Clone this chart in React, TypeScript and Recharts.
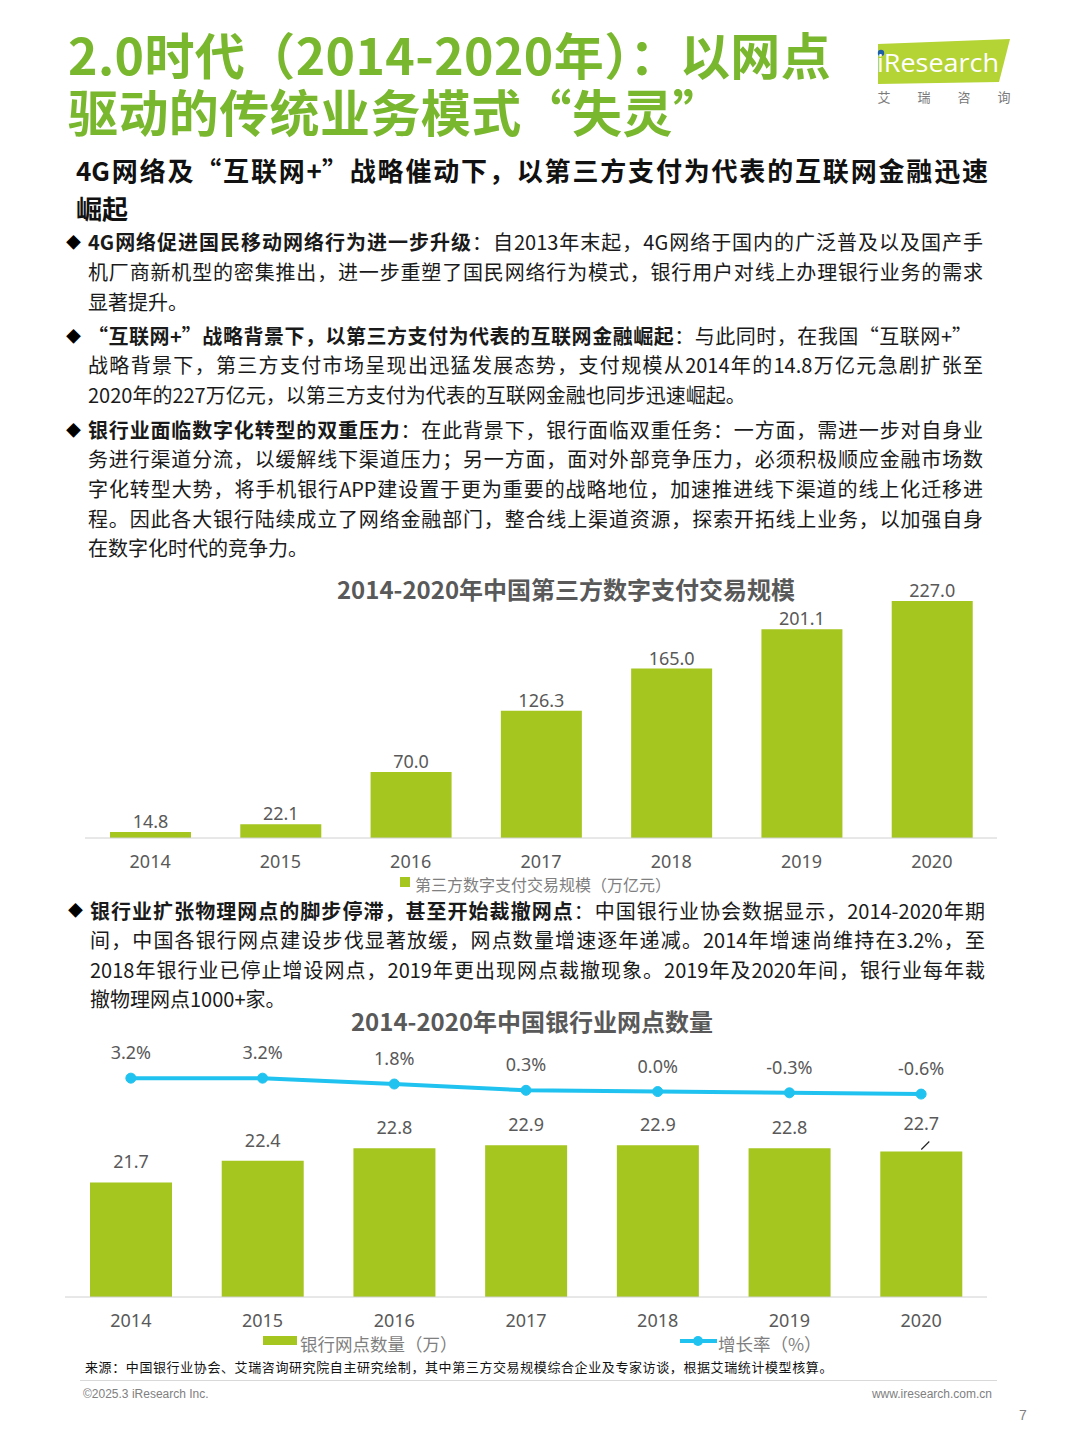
import React from "react";
import { BarChart, Bar, XAxis, YAxis, LabelList, ComposedChart, Line } from "recharts";

const payYears = ["2014", "2015", "2016", "2017", "2018", "2019", "2020"];
const payScale = [14.8, 22.1, 70.0, 126.3, 165.0, 201.1, 227.0];

const branchYears = ["2014", "2015", "2016", "2017", "2018", "2019", "2020"];
const branchCount = [21.7, 22.4, 22.8, 22.9, 22.9, 22.8, 22.7];
const branchGrowth = [3.2, 3.2, 1.8, 0.3, 0.0, -0.3, -0.6];

const GREEN = "#a4c61f";
const TITLE_GREEN = "#79b72e";
const BLUE = "#20c3ef";
const GREY = "#595959";
const CJK = '"Noto Sans CJK SC", "Noto Sans", sans-serif';
const NUM = '"Noto Sans", "Noto Sans CJK SC", sans-serif';

const payData = payYears.map((year, i) => ({ year, value: payScale[i] }));
const branchData = branchYears.map((year, i) => ({
	year,
	count: branchCount[i],
	growth: branchGrowth[i],
}));

const YearTick = (props: any) => {
	const { x, y, payload, shift = 23 } = props;
	return (
		<text x={x} y={y + shift} textAnchor='middle' dominantBaseline='central' fill={GREY} fontSize={18} fontFamily={NUM}>
			{payload.value}
		</text>
	);
};

const PayLabel = (props: any) => {
	const { x, y, width, value } = props;
	return (
		<text x={x + width / 2} y={y - 11} textAnchor='middle' dominantBaseline='central' fill={GREY} fontSize={18} fontFamily={NUM}>
			{Number(value).toFixed(1)}
		</text>
	);
};

const CountLabel = (props: any) => {
	const { x, y, width, value, index } = props;
	const cx = x + width / 2;
	const last = index === branchCount.length - 1;
	return (
		<g>
			<text x={cx} y={y - (last ? 28 : 21)} textAnchor='middle' dominantBaseline='central' fill={GREY} fontSize={18} fontFamily={NUM}>
				{Number(value).toFixed(1)}
			</text>
			{last && <line x1={cx} y1={y - 2} x2={cx + 8} y2={y - 10} stroke='#222' strokeWidth={1.2} />}
		</g>
	);
};

const GrowthLabel = (props: any) => {
	const { x, y, value } = props;
	return (
		<text x={x} y={y - 26} textAnchor='middle' dominantBaseline='central' fill={GREY} fontSize={18} fontFamily={NUM}>
			{Number(value).toFixed(1)}%
		</text>
	);
};

const TextLine = ({
	top,
	left,
	width,
	size = 20,
	lh = 30,
	justify = true,
	children,
	style,
}: {
	top: number;
	left: number;
	width: number;
	size?: number;
	lh?: number;
	justify?: boolean;
	children: React.ReactNode;
	style?: React.CSSProperties;
}) => (
	<div
		style={{
			position: "absolute",
			top: top - lh / 2,
			left,
			width,
			height: lh,
			fontSize: size,
			lineHeight: `${lh}px`,
			textAlign: "justify",
			textAlignLast: justify ? "justify" : "left",
			color: "#1a1a1a",
			...style,
		}}>
		{children}
	</div>
);

const Diamond = ({ top, left }: { top: number; left: number }) => (
	<div style={{ position: "absolute", top: top - 12, left, fontSize: 15, lineHeight: "24px", color: "#000" }}>◆</div>
);

const Logo = () => (
	<svg style={{ position: "absolute", left: 868, top: 34 }} width={150} height={76}>
		<polygon points='10,10 142,5 131,48 10,50' fill='#b4d335' />
		<circle cx={13} cy={19} r={3.2} fill='#1d5fa8' />
		<text x={9} y={38} fill='#fff' fontSize={25} fontFamily='"Open Sans", sans-serif' textLength={122} lengthAdjust='spacingAndGlyphs'>
			iResearch
		</text>
		{["艾", "瑞", "咨", "询"].map((c, i) => (
			<text key={c} x={16 + i * 40} y={68} textAnchor='middle' fill='#7a7a7a' fontSize={13} fontFamily={CJK}>
				{c}
			</text>
		))}
	</svg>
);

export default function App() {
	return (
		<div
			style={{
				position: "absolute",
				left: 0,
				top: 0,
				width: 1080,
				height: 1440,
				background: "#fff",
				fontFamily: CJK,
				overflow: "hidden",
			}}>
			{/* heading */}
			<div
				style={{
					position: "absolute",
					top: 53 - 28.5,
					left: 68,
					width: 800,
					fontSize: 50,
					lineHeight: "57px",
					color: TITLE_GREEN,
					fontWeight: 700,
					letterSpacing: 0.4,
				}}>
				2.0时代（2014-2020年）：以网点
				<br />
				驱动的传统业务模式“失灵”
			</div>
			<Logo />

			<TextLine top={170} left={76} width={912} size={26} lh={38} style={{ fontWeight: 700, color: "#111" }}>
				4G网络及“互联网+”战略催动下，以第三方支付为代表的互联网金融迅速
			</TextLine>
			<TextLine top={208} left={76} width={912} size={26} lh={38} justify={false} style={{ fontWeight: 700, color: "#111" }}>
				崛起
			</TextLine>

			{/* bullet 1 */}
			<Diamond top={242} left={66} />
			<TextLine top={242} left={88} width={895}>
				<b>4G网络促进国民移动网络行为进一步升级</b>：自2013年末起，4G网络于国内的广泛普及以及国产手
			</TextLine>
			<TextLine top={272} left={88} width={895}>
				机厂商新机型的密集推出，进一步重塑了国民网络行为模式，银行用户对线上办理银行业务的需求
			</TextLine>
			<TextLine top={302} left={88} width={895} justify={false}>
				显著提升。
			</TextLine>

			{/* bullet 2 */}
			<Diamond top={336} left={66} />
			<TextLine top={336} left={88} width={884}>
				<b>“互联网+”战略背景下，以第三方支付为代表的互联网金融崛起</b>：与此同时，在我国“互联网+”
			</TextLine>
			<TextLine top={365} left={88} width={895}>
				战略背景下，第三方支付市场呈现出迅猛发展态势，支付规模从2014年的14.8万亿元急剧扩张至
			</TextLine>
			<TextLine top={395} left={88} width={895} justify={false}>
				2020年的227万亿元，以第三方支付为代表的互联网金融也同步迅速崛起。
			</TextLine>

			{/* bullet 3 */}
			<Diamond top={430} left={66} />
			<TextLine top={430} left={88} width={895}>
				<b>银行业面临数字化转型的双重压力</b>：在此背景下，银行面临双重任务：一方面，需进一步对自身业
			</TextLine>
			<TextLine top={459} left={88} width={895}>
				务进行渠道分流，以缓解线下渠道压力；另一方面，面对外部竞争压力，必须积极顺应金融市场数
			</TextLine>
			<TextLine top={489} left={88} width={895}>
				字化转型大势，将手机银行APP建设置于更为重要的战略地位，加速推进线下渠道的线上化迁移进
			</TextLine>
			<TextLine top={519} left={88} width={895}>
				程。因此各大银行陆续成立了网络金融部门，整合线上渠道资源，探索开拓线上业务，以加强自身
			</TextLine>
			<TextLine top={548} left={88} width={895} justify={false}>
				在数字化时代的竞争力。
			</TextLine>

			{/* chart 1 */}
			<div style={{ position: "absolute", top: 574, left: 0, width: 1080, textAlign: "center", fontSize: 24, fontWeight: 700, color: GREY, lineHeight: "30px", paddingLeft: 52, boxSizing: "border-box" }}>
				2014-2020年中国第三方数字支付交易规模
			</div>
			<div style={{ position: "absolute", top: 570, left: 0 }}>
				<BarChart width={1080} height={308} data={payData} margin={{ top: 7, right: 83, left: 85, bottom: 0 }}>
					<XAxis dataKey='year' height={40} tickSize={0} tickMargin={0} tickLine={false} axisLine={{ stroke: "#d0d0d0" }} tick={<YearTick shift={22.5} />} interval={0} />
					<YAxis hide domain={[9.4, 249.1]} allowDataOverflow />
					<Bar dataKey='value' fill={GREEN} barSize={81} isAnimationActive={false}>
						<LabelList dataKey='value' content={<PayLabel />} />
					</Bar>
				</BarChart>
			</div>
			<div style={{ position: "absolute", top: 873, left: 400, display: "flex", alignItems: "center", fontSize: 16, color: "#7f7f7f", lineHeight: "23px", height: 23 }}>
				<span style={{ width: 10, height: 10, background: GREEN, marginRight: 5, marginTop: -6 }} />
				第三方数字支付交易规模（万亿元）
			</div>

			{/* bullet 4 */}
			<Diamond top={910} left={68} />
			<TextLine top={911} left={90} width={895}>
				<b>银行业扩张物理网点的脚步停滞，甚至开始裁撤网点</b>：中国银行业协会数据显示，2014-2020年期
			</TextLine>
			<TextLine top={940} left={90} width={895}>
				间，中国各银行网点建设步伐显著放缓，网点数量增速逐年递减。2014年增速尚维持在3.2%，至
			</TextLine>
			<TextLine top={970} left={90} width={895}>
				2018年银行业已停止增设网点，2019年更出现网点裁撤现象。2019年及2020年间，银行业每年裁
			</TextLine>
			<TextLine top={999} left={90} width={895} justify={false}>
				撤物理网点1000+家。
			</TextLine>

			{/* chart 2 */}
			<div style={{ position: "absolute", top: 1006, left: 0, width: 1080, textAlign: "center", fontSize: 24, fontWeight: 700, color: GREY, lineHeight: "30px" }}>
				<span style={{ position: "relative", left: -8 }}>2014-2020年中国银行业网点数量</span>
			</div>
			<div style={{ position: "absolute", top: 1030, left: 0 }}>
				<ComposedChart width={1080} height={307} data={branchData} margin={{ top: 10, right: 93, left: 65, bottom: 0 }}>
					<XAxis dataKey='year' height={40} tickSize={0} tickMargin={0} tickLine={false} axisLine={{ stroke: "#d0d0d0" }} tick={<YearTick />} interval={0} />
					<YAxis yAxisId='left' hide domain={[18, 26.3]} allowDataOverflow />
					<YAxis yAxisId='right' orientation='right' hide domain={[-49, 12.3]} allowDataOverflow />
					<Bar yAxisId='left' dataKey='count' fill={GREEN} barSize={82} isAnimationActive={false}>
						<LabelList dataKey='count' content={<CountLabel />} />
					</Bar>
					<Line
						yAxisId='right'
						dataKey='growth'
						stroke={BLUE}
						strokeWidth={4}
						dot={{ r: 5, fill: BLUE, stroke: BLUE, strokeWidth: 1 }}
						isAnimationActive={false}>
						<LabelList dataKey='growth' content={<GrowthLabel />} />
					</Line>
				</ComposedChart>
			</div>
			<div style={{ position: "absolute", top: 1332, left: 263, display: "flex", alignItems: "center", fontSize: 17.5, color: "#7f7f7f", lineHeight: "24px", height: 24 }}>
				<span style={{ width: 34, height: 9, background: GREEN, marginRight: 3, marginTop: -7 }} />
				银行网点数量（万）
			</div>
			<div style={{ position: "absolute", top: 1332, left: 680, display: "flex", alignItems: "center", fontSize: 17.5, color: "#7f7f7f", lineHeight: "24px", height: 24 }}>
				<svg width={37} height={12} style={{ marginRight: 1, marginTop: -7 }}>
					<line x1={0} y1={6} x2={37} y2={6} stroke={BLUE} strokeWidth={4} />
					<circle cx={18} cy={6} r={5} fill={BLUE} />
				</svg>
				增长率（%）
			</div>

			{/* source & footer */}
			<div style={{ position: "absolute", top: 1358, left: 85, fontSize: 13, lineHeight: "18px", color: "#111", letterSpacing: 0.6 }}>
				来源：中国银行业协会、艾瑞咨询研究院自主研究绘制，其中第三方交易规模综合企业及专家访谈，根据艾瑞统计模型核算。
			</div>
			<div style={{ position: "absolute", top: 1380, left: 80, width: 917, height: 1, background: "#d9d9d9" }} />
			<div style={{ position: "absolute", top: 1386, left: 83, fontSize: 12, lineHeight: "16px", color: "#808080", fontFamily: '"Liberation Sans", Arial, sans-serif' }}>
				©2025.3 iResearch Inc.
			</div>
			<div style={{ position: "absolute", top: 1386, right: 88, fontSize: 12, lineHeight: "16px", color: "#808080", fontFamily: '"Liberation Sans", Arial, sans-serif' }}>
				www.iresearch.com.cn
			</div>
			<div style={{ position: "absolute", top: 1406, left: 1019, fontSize: 14, lineHeight: "18px", color: "#808080", fontFamily: '"Liberation Sans", Arial, sans-serif' }}>
				7
			</div>
		</div>
	);
}
